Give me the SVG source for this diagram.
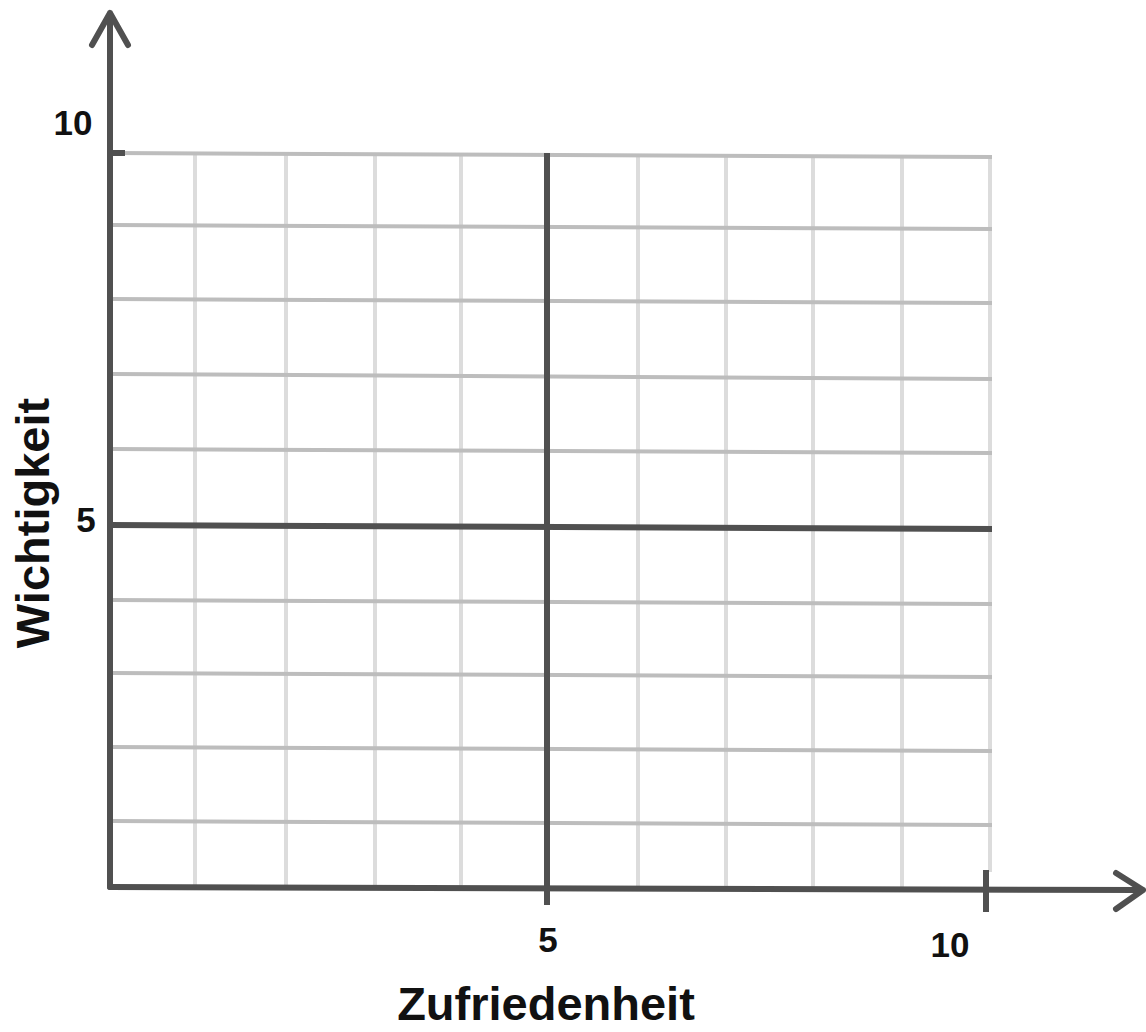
<svg xmlns="http://www.w3.org/2000/svg" width="1146" height="1032" viewBox="0 0 1146 1032">
<style>
.vg{stroke:#dcdcdc;stroke-width:4;fill:none}
.hg{stroke:#bdbdbd;stroke-width:4;fill:none}
.ax{stroke:#505050;stroke-width:6;fill:none;stroke-linecap:round;stroke-linejoin:round}
.dk{stroke:#505050;stroke-width:6;fill:none}
.num{font-family:"Liberation Sans",Arial,sans-serif;font-weight:bold;font-size:35px;fill:#111;text-anchor:middle}
.ttl{font-family:"Liberation Sans",Arial,sans-serif;font-weight:bold;font-size:47px;fill:#111;text-anchor:middle}
</style>
<rect width="1146" height="1032" fill="#fff"/>
<g id="grid">
<g id="vgrid">
<line class="vg" x1="195" y1="155" x2="195" y2="887"/>
<line class="vg" x1="286" y1="155" x2="286" y2="887"/>
<line class="vg" x1="375" y1="155" x2="375" y2="887"/>
<line class="vg" x1="461" y1="155" x2="461" y2="888"/>
<line class="vg" x1="638" y1="155" x2="638" y2="888"/>
<line class="vg" x1="726" y1="156" x2="726" y2="888"/>
<line class="vg" x1="813" y1="156" x2="813" y2="889"/>
<line class="vg" x1="902" y1="157" x2="902" y2="889"/>
<line class="vg" x1="990" y1="157" x2="990" y2="872"/>
</g>
<g id="hgrid">
<line class="hg" x1="112" y1="153" x2="992" y2="157"/>
<line class="hg" x1="112" y1="225" x2="992" y2="229"/>
<line class="hg" x1="112" y1="299" x2="992" y2="303"/>
<line class="hg" x1="112" y1="374" x2="992" y2="379"/>
<line class="hg" x1="112" y1="449" x2="992" y2="453"/>
<line class="hg" x1="112" y1="600" x2="992" y2="604"/>
<line class="hg" x1="112" y1="673" x2="992" y2="677"/>
<line class="hg" x1="112" y1="747" x2="992" y2="751"/>
<line class="hg" x1="112" y1="821" x2="992" y2="825"/>
</g>
</g>
<g id="connectors">
<line id="mid-h" class="dk" x1="110" y1="525" x2="992" y2="529"/>
<line id="mid-v" class="dk" x1="547" y1="153" x2="547" y2="905"/>
<path id="y-axis" class="ax" d="M110 887 L110 13 M92 45 L110 13 L128 45"/>
<path id="x-axis" class="ax" d="M110 887 L1143 890 M1116 873 L1143 890 L1116 909"/>
<line id="tick10y" class="dk" x1="110" y1="153" x2="125" y2="153"/>
<line id="tick10x" class="dk" x1="986" y1="870" x2="986" y2="912"/>
</g>
<g id="labels">
<text class="num" x="73" y="135">10</text>
<text class="num" x="86" y="532">5</text>
<text class="num" x="548" y="952">5</text>
<text class="num" x="950" y="957">10</text>
<text class="ttl" x="546" y="1020">Zufriedenheit</text>
<text class="ttl" transform="translate(49 523) rotate(-90)" x="0" y="0">Wichtigkeit</text>
</g>
</svg>
